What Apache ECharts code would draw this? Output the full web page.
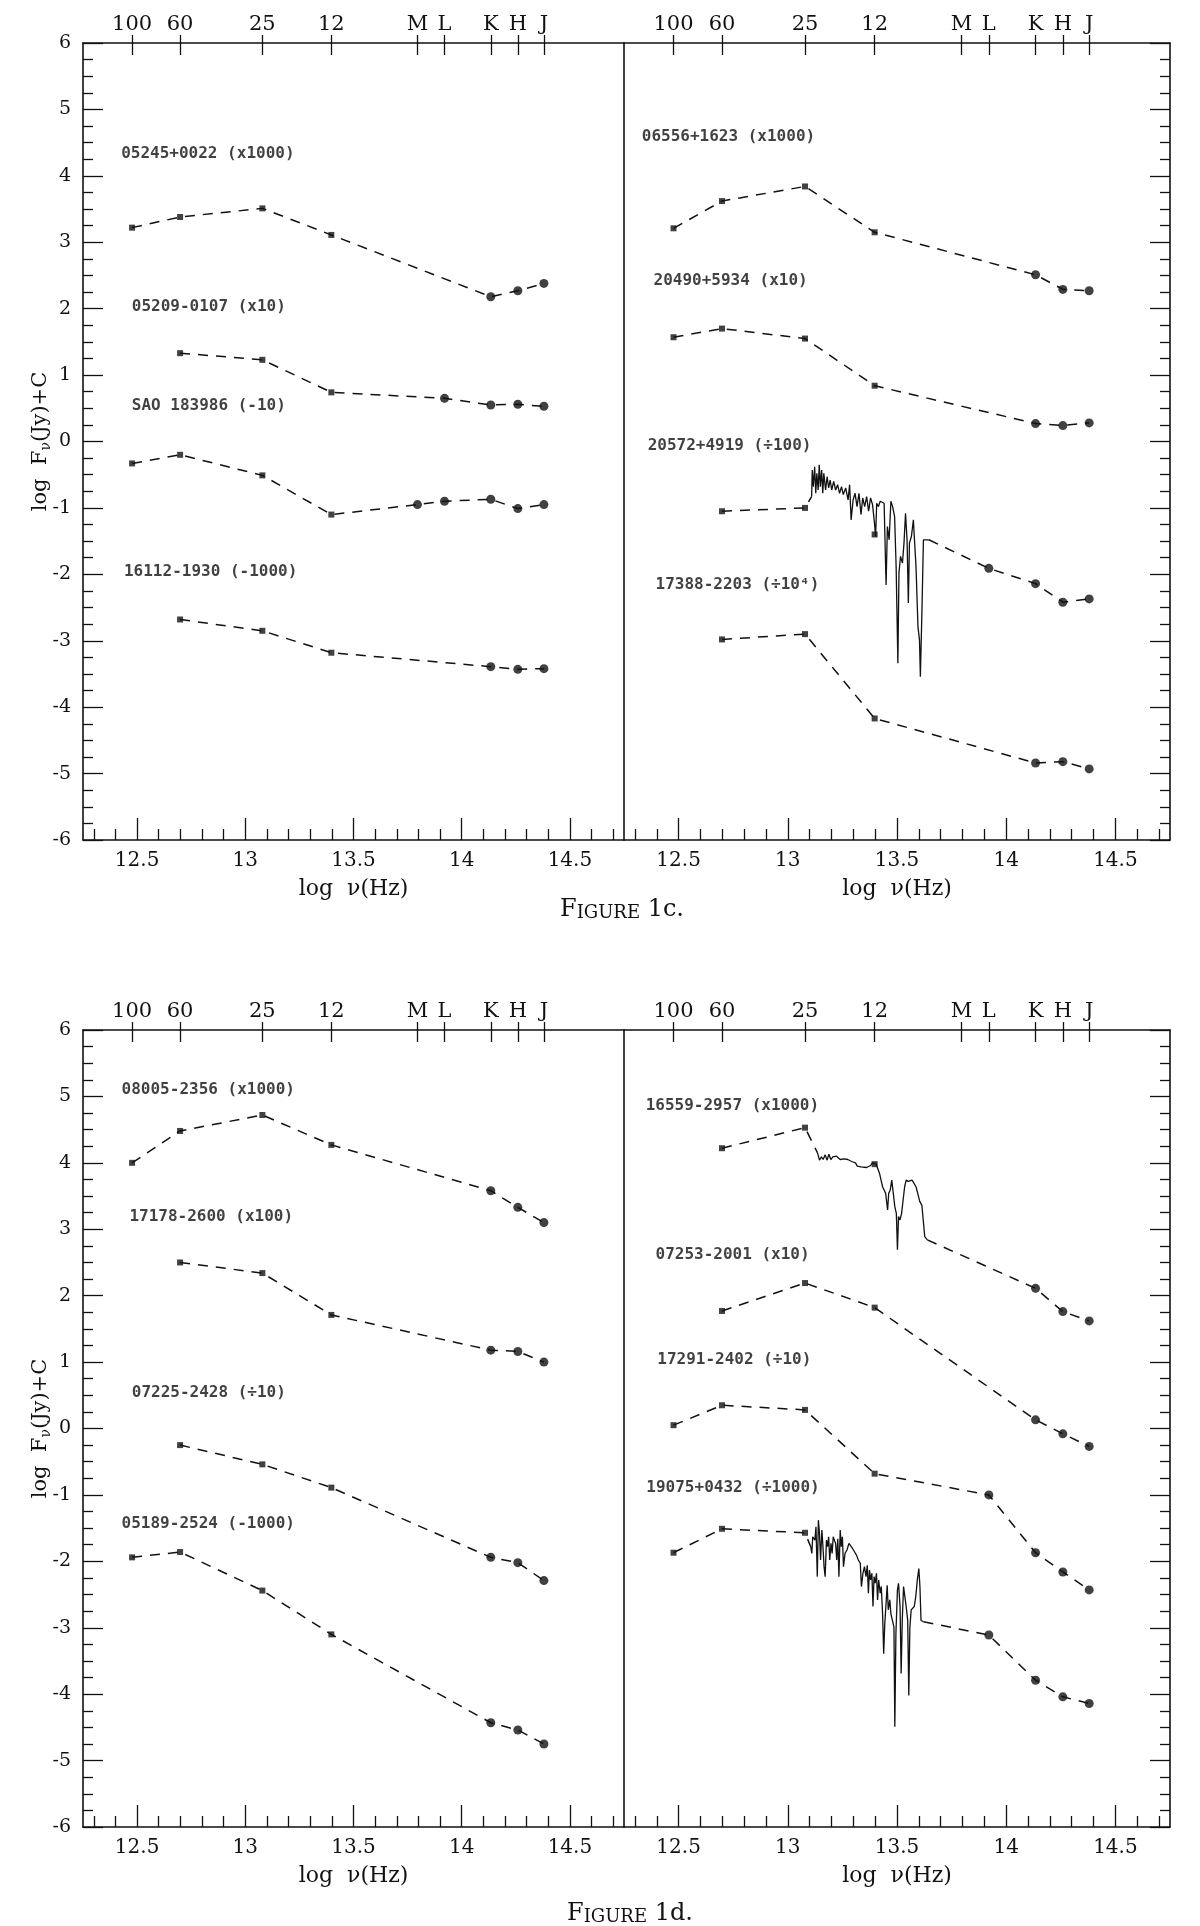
<!DOCTYPE html>
<html>
<head>
<meta charset="utf-8">
<script src="https://cdn.jsdelivr.net/npm/echarts@6/dist/echarts.min.js"></script>
<style>
html,body{margin:0;padding:0;background:#fff;}
#chart{width:1200px;height:1926px;}
</style>
</head>
<body>
<div id="chart"></div>
<script>
// ---------------- axis ticks ----------------
const X_RANGE = [12.25, 14.75];
const Y_RANGE = [-6, 6];
const BOTTOM_MAJOR_TICKS = [12.5, 13, 13.5, 14, 14.5];
const BOTTOM_MINOR_TICKS = [12.3, 12.4, 12.6, 12.7, 12.8, 12.9, 13.1, 13.2, 13.3, 13.4, 13.6, 13.7, 13.8, 13.9, 14.1, 14.2, 14.3, 14.4, 14.6, 14.7];
const TOP_TICK_LABELS = ['100', '60', '25', '12', 'M', 'L', 'K', 'H', 'J'];
const TOP_TICK_WAVELENGTH_UM = [100, 60, 25, 12, 4.8, 3.6, 2.2, 1.65, 1.25];
const IRAS_BANDS = ['100', '60', '25', '12'];
const FIGURE_TITLES = ['1c.', '1d.'];

// ---------------- FIGURE 1c, left ----------------
const NAME_05245 = '05245+0022 (x1000)';
const BANDS_05245 = ['100', '60', '25', '12', 'K', 'H', 'J'];
const FLUX_05245 = [3.22, 3.38, 3.51, 3.11, 2.18, 2.27, 2.38];

const NAME_05209 = '05209-0107 (x10)';
const BANDS_05209 = ['60', '25', '12', 'L', 'K', 'H', 'J'];
const FLUX_05209 = [1.33, 1.23, 0.74, 0.65, 0.55, 0.56, 0.53];

const NAME_SAO = 'SAO 183986 (-10)';
const BANDS_SAO = ['100', '60', '25', '12', 'M', 'L', 'K', 'H', 'J'];
const FLUX_SAO = [-0.33, -0.20, -0.51, -1.10, -0.95, -0.90, -0.87, -1.01, -0.95];

const NAME_16112 = '16112-1930 (-1000)';
const BANDS_16112 = ['60', '25', '12', 'K', 'H', 'J'];
const FLUX_16112 = [-2.68, -2.85, -3.18, -3.39, -3.43, -3.42];

// ---------------- FIGURE 1c, right ----------------
const NAME_06556 = '06556+1623 (x1000)';
const BANDS_06556 = ['100', '60', '25', '12', 'K', 'H', 'J'];
const FLUX_06556 = [3.21, 3.62, 3.84, 3.15, 2.51, 2.29, 2.27];

const NAME_20490 = '20490+5934 (x10)';
const BANDS_20490 = ['100', '60', '25', '12', 'K', 'H', 'J'];
const FLUX_20490 = [1.57, 1.70, 1.55, 0.84, 0.27, 0.24, 0.28];

const NAME_20572 = '20572+4919 (\u00f7100)';
const BANDS_20572 = ['60', '25', '12', 'L', 'K', 'H', 'J'];
const FLUX_20572 = [-1.05, -1.00, -1.40, -1.91, -2.14, -2.42, -2.37];
const SPEC_20572_LOGNU = [13.109, 13.112, 13.117, 13.123, 13.128, 13.133, 13.139, 13.144, 13.149, 13.155, 13.160, 13.165, 13.173, 13.180, 13.187, 13.194, 13.201, 13.210, 13.219, 13.228, 13.237, 13.246, 13.254, 13.265, 13.276, 13.283, 13.290, 13.299, 13.308, 13.317, 13.326, 13.335, 13.343, 13.352, 13.361, 13.370, 13.379, 13.388, 13.397, 13.402, 13.407, 13.415, 13.423, 13.432, 13.441, 13.450, 13.456, 13.464, 13.472, 13.480, 13.489, 13.496, 13.504, 13.509, 13.516, 13.525, 13.532, 13.539, 13.546, 13.552, 13.557, 13.566, 13.575, 13.580, 13.587, 13.596, 13.603, 13.607, 13.614, 13.621, 13.628, 13.646];
const SPEC_20572_FLUX = [-0.83, -0.43, -0.68, -0.38, -0.78, -0.48, -0.73, -0.35, -0.68, -0.43, -0.78, -0.48, -0.73, -0.53, -0.70, -0.58, -0.73, -0.60, -0.73, -0.65, -0.78, -0.68, -0.80, -0.70, -0.88, -0.65, -1.18, -0.88, -0.78, -0.98, -0.78, -1.10, -0.85, -0.98, -0.83, -1.05, -0.85, -0.95, -1.23, -1.43, -0.93, -0.98, -0.90, -0.93, -0.93, -2.16, -1.28, -1.48, -0.90, -0.98, -1.13, -1.88, -3.34, -1.98, -1.73, -1.83, -1.53, -1.08, -1.48, -2.43, -1.53, -1.43, -1.18, -1.48, -1.88, -2.79, -2.99, -3.54, -2.58, -1.48, -1.48, -1.48];

const NAME_17388 = '17388-2203 (\u00f710\u2074)';
const BANDS_17388 = ['60', '25', '12', 'K', 'H', 'J'];
const FLUX_17388 = [-2.98, -2.90, -4.17, -4.84, -4.82, -4.93];

// ---------------- FIGURE 1d, left ----------------
const NAME_08005 = '08005-2356 (x1000)';
const BANDS_08005 = ['100', '60', '25', '12', 'K', 'H', 'J'];
const FLUX_08005 = [4.00, 4.48, 4.72, 4.27, 3.58, 3.33, 3.10];

const NAME_17178 = '17178-2600 (x100)';
const BANDS_17178 = ['60', '25', '12', 'K', 'H', 'J'];
const FLUX_17178 = [2.50, 2.34, 1.71, 1.18, 1.16, 1.00];

const NAME_07225 = '07225-2428 (\u00f710)';
const BANDS_07225 = ['60', '25', '12', 'K', 'H', 'J'];
const FLUX_07225 = [-0.25, -0.54, -0.89, -1.94, -2.02, -2.29];

const NAME_05189 = '05189-2524 (-1000)';
const BANDS_05189 = ['100', '60', '25', '12', 'K', 'H', 'J'];
const FLUX_05189 = [-1.94, -1.86, -2.44, -3.10, -4.43, -4.54, -4.75];

// ---------------- FIGURE 1d, right ----------------
const NAME_16559 = '16559-2957 (x1000)';
const BANDS_16559 = ['60', '25', '12', 'K', 'H', 'J'];
const FLUX_16559 = [4.22, 4.53, 3.98, 2.11, 1.76, 1.62];
const SPEC_16559_LOGNU = [13.136, 13.145, 13.154, 13.162, 13.171, 13.180, 13.188, 13.197, 13.206, 13.214, 13.223, 13.232, 13.240, 13.249, 13.258, 13.266, 13.275, 13.284, 13.292, 13.301, 13.310, 13.318, 13.327, 13.335, 13.344, 13.361, 13.379, 13.387, 13.396, 13.405, 13.413, 13.420, 13.427, 13.434, 13.441, 13.448, 13.457, 13.462, 13.469, 13.476, 13.483, 13.490, 13.497, 13.502, 13.507, 13.514, 13.521, 13.528, 13.535, 13.542, 13.552, 13.561, 13.569, 13.578, 13.587, 13.595, 13.604, 13.614, 13.621, 13.627, 13.639];
const SPEC_16559_FLUX = [4.15, 4.04, 4.09, 4.05, 4.12, 4.04, 4.13, 4.05, 4.09, 4.07, 4.10, 4.08, 4.05, 4.04, 4.06, 4.03, 4.05, 4.06, 4.02, 3.99, 4.00, 3.95, 3.98, 3.94, 3.96, 3.93, 3.96, 4.00, 4.02, 3.98, 3.99, 3.84, 3.74, 3.64, 3.59, 3.54, 3.29, 3.54, 3.59, 3.74, 3.54, 3.34, 3.24, 2.69, 3.19, 3.14, 3.24, 3.44, 3.64, 3.74, 3.72, 3.74, 3.74, 3.72, 3.64, 3.54, 3.42, 3.36, 3.34, 2.89, 2.84];

const NAME_07253 = '07253-2001 (x10)';
const BANDS_07253 = ['60', '25', '12', 'K', 'H', 'J'];
const FLUX_07253 = [1.77, 2.19, 1.82, 0.13, -0.08, -0.27];

const NAME_17291 = '17291-2402 (\u00f710)';
const BANDS_17291 = ['100', '60', '25', '12', 'L', 'K', 'H', 'J'];
const FLUX_17291 = [0.05, 0.35, 0.28, -0.68, -1.00, -1.87, -2.16, -2.43];

const NAME_19075 = '19075+0432 (\u00f71000)';
const BANDS_19075 = ['100', '60', '25', 'L', 'K', 'H', 'J'];
const FLUX_19075 = [-1.87, -1.51, -1.57, -3.11, -3.79, -4.04, -4.14];
const SPEC_19075_LOGNU = [13.105, 13.110, 13.114, 13.119, 13.124, 13.129, 13.135, 13.140, 13.145, 13.150, 13.156, 13.161, 13.166, 13.171, 13.177, 13.182, 13.187, 13.192, 13.198, 13.203, 13.208, 13.213, 13.219, 13.224, 13.229, 13.234, 13.240, 13.245, 13.250, 13.255, 13.262, 13.271, 13.280, 13.288, 13.297, 13.306, 13.315, 13.323, 13.332, 13.337, 13.344, 13.351, 13.358, 13.364, 13.369, 13.374, 13.379, 13.385, 13.390, 13.395, 13.400, 13.406, 13.411, 13.416, 13.423, 13.428, 13.434, 13.439, 13.444, 13.449, 13.455, 13.460, 13.467, 13.472, 13.479, 13.486, 13.490, 13.495, 13.502, 13.507, 13.514, 13.519, 13.524, 13.530, 13.535, 13.542, 13.549, 13.554, 13.559, 13.565, 13.572, 13.579, 13.586, 13.593, 13.600, 13.605, 13.610, 13.621];
const SPEC_19075_FLUX = [-1.78, -1.88, -1.63, -1.61, -1.68, -1.48, -2.23, -1.38, -1.58, -1.98, -1.53, -1.78, -2.08, -2.23, -1.68, -1.78, -1.63, -1.98, -1.73, -1.88, -1.63, -1.68, -1.73, -1.98, -1.66, -2.23, -1.53, -1.78, -1.63, -2.08, -1.88, -1.83, -1.73, -1.76, -1.81, -1.86, -1.91, -1.98, -2.03, -2.38, -2.18, -2.08, -2.23, -2.06, -2.48, -2.13, -2.28, -2.18, -2.68, -2.23, -2.33, -2.18, -2.58, -2.28, -2.48, -2.38, -2.79, -3.39, -2.94, -2.68, -2.36, -2.73, -2.58, -2.79, -2.89, -2.99, -4.49, -3.09, -2.43, -2.33, -2.68, -3.69, -2.89, -2.38, -2.36, -2.68, -2.89, -4.02, -2.99, -2.73, -2.73, -2.68, -2.53, -2.28, -2.11, -2.38, -2.89, -2.91];

// ---------------- label anchors (log nu, y) : layout only ----------------
const LABEL_AT = {
  '05245': [12.424, 4.33], '05209': [12.473, 2.02], 'SAO': [12.473, 0.54], '16112': [12.437, -1.97],
  '06556': [12.329, 4.59], '20490': [12.383, 2.42], '20572': [12.356, -0.06], '17388': [12.392, -2.16],
  '08005': [12.426, 5.10], '17178': [12.462, 3.18], '07225': [12.473, 0.54], '05189': [12.426, -1.44],
  '16559': [12.347, 4.86], '07253': [12.392, 2.61], '17291': [12.400, 1.04], '19075': [12.350, -0.90]
};

// ---------------- layout & style ----------------
const INK = '#111';
const SERIF = '"DejaVu Serif","Liberation Serif",serif';
const CAPTION_SERIF = '"DejaVu Serif","Liberation Serif",serif';
const MONO = '"DejaVu Sans Mono","Liberation Mono",monospace';
const GRIDS = [
  { left: 83, top: 43, width: 541, height: 797 },
  { left: 624, top: 43, width: 546, height: 797 },
  { left: 83, top: 1030, width: 541, height: 797 },
  { left: 624, top: 1030, width: 546, height: 797 }
];

const LOG_NU = TOP_TICK_WAVELENGTH_UM.map(l => Math.log10(2.998e14 / l));
function bandLogNu(b) { return LOG_NU[TOP_TICK_LABELS.indexOf(b)]; }

const STARS = [
  { panel: 0, key: '05245', name: NAME_05245, bands: BANDS_05245, flux: FLUX_05245 },
  { panel: 0, key: '05209', name: NAME_05209, bands: BANDS_05209, flux: FLUX_05209 },
  { panel: 0, key: 'SAO', name: NAME_SAO, bands: BANDS_SAO, flux: FLUX_SAO },
  { panel: 0, key: '16112', name: NAME_16112, bands: BANDS_16112, flux: FLUX_16112 },
  { panel: 1, key: '06556', name: NAME_06556, bands: BANDS_06556, flux: FLUX_06556 },
  { panel: 1, key: '20490', name: NAME_20490, bands: BANDS_20490, flux: FLUX_20490 },
  { panel: 1, key: '20572', name: NAME_20572, bands: BANDS_20572, flux: FLUX_20572, specX: SPEC_20572_LOGNU, specY: SPEC_20572_FLUX },
  { panel: 1, key: '17388', name: NAME_17388, bands: BANDS_17388, flux: FLUX_17388 },
  { panel: 2, key: '08005', name: NAME_08005, bands: BANDS_08005, flux: FLUX_08005 },
  { panel: 2, key: '17178', name: NAME_17178, bands: BANDS_17178, flux: FLUX_17178 },
  { panel: 2, key: '07225', name: NAME_07225, bands: BANDS_07225, flux: FLUX_07225 },
  { panel: 2, key: '05189', name: NAME_05189, bands: BANDS_05189, flux: FLUX_05189 },
  { panel: 3, key: '16559', name: NAME_16559, bands: BANDS_16559, flux: FLUX_16559, specX: SPEC_16559_LOGNU, specY: SPEC_16559_FLUX },
  { panel: 3, key: '07253', name: NAME_07253, bands: BANDS_07253, flux: FLUX_07253 },
  { panel: 3, key: '17291', name: NAME_17291, bands: BANDS_17291, flux: FLUX_17291 },
  { panel: 3, key: '19075', name: NAME_19075, bands: BANDS_19075, flux: FLUX_19075, specX: SPEC_19075_LOGNU, specY: SPEC_19075_FLUX }
];

// ---------------- axes ----------------
const xAxis = [];
const yAxis = [];
GRIDS.forEach((g, gi) => {
  const base = { type: 'value', gridIndex: gi, min: X_RANGE[0], max: X_RANGE[1], splitLine: { show: false } };
  const line = { show: true, onZero: false, lineStyle: { color: INK, width: 1.6 } };
  const noLine = { show: false, onZero: false };
  const tickStyle = { color: INK, width: 1.3 };
  xAxis.push(Object.assign({}, base, {
    position: 'bottom', axisLine: line,
    axisTick: { show: true, inside: true, length: 22, customValues: BOTTOM_MAJOR_TICKS, lineStyle: tickStyle },
    axisLabel: { show: true, customValues: BOTTOM_MAJOR_TICKS, margin: 11, fontFamily: SERIF, fontSize: 20, color: INK, formatter: v => String(v) },
    name: 'log  \u03bd(Hz)', nameLocation: 'middle', nameGap: 38, nameMoveOverlap: false,
    nameTextStyle: { fontFamily: SERIF, fontSize: 22, color: INK }
  }));
  xAxis.push(Object.assign({}, base, {
    position: 'bottom', axisLine: noLine,
    axisTick: { show: true, inside: true, length: 11, customValues: BOTTOM_MINOR_TICKS, lineStyle: tickStyle },
    axisLabel: { show: false }
  }));
  xAxis.push(Object.assign({}, base, {
    position: 'top', axisLine: line,
    axisTick: { show: true, inside: false, length: 8, customValues: LOG_NU, lineStyle: tickStyle },
    axisLabel: {
      show: true, customValues: LOG_NU, margin: 8, fontFamily: SERIF, fontSize: 21, color: INK,
      formatter: v => { const i = LOG_NU.findIndex(t => Math.abs(t - v) < 1e-6); return i >= 0 ? TOP_TICK_LABELS[i] : ''; }
    }
  }));
  xAxis.push(Object.assign({}, base, {
    position: 'top', axisLine: noLine,
    axisTick: { show: true, inside: true, length: 12, customValues: LOG_NU, lineStyle: tickStyle },
    axisLabel: { show: false }
  }));

  const ybase = { type: 'value', gridIndex: gi, min: Y_RANGE[0], max: Y_RANGE[1], interval: 1, splitLine: { show: false } };
  const isLeft = gi % 2 === 0;
  if (isLeft) {
    yAxis.push(Object.assign({}, ybase, {
      position: 'left', axisLine: line,
      axisTick: { show: true, inside: true, length: 20, lineStyle: tickStyle },
      minorTick: { show: true, splitNumber: 4, length: 10, lineStyle: tickStyle },
      axisLabel: { show: true, margin: 12, fontFamily: SERIF, fontSize: 19, color: INK },
      name: '{a|log  F}{s|\u03bd}{a|(Jy)+C}', nameLocation: 'middle', nameGap: 30, nameRotate: 90, nameMoveOverlap: false,
      nameTextStyle: {
        color: INK,
        rich: {
          a: { fontFamily: SERIF, fontSize: 21, color: INK, lineHeight: 24, verticalAlign: 'middle' },
          s: { fontFamily: SERIF, fontSize: 14, color: INK, lineHeight: 24, verticalAlign: 'bottom' }
        }
      }
    }));
    yAxis.push(Object.assign({}, ybase, { position: 'right', show: false }));
  } else {
    yAxis.push(Object.assign({}, ybase, {
      position: 'left', axisLine: line, axisTick: { show: false }, axisLabel: { show: false }
    }));
    yAxis.push(Object.assign({}, ybase, {
      position: 'right', axisLine: line,
      axisTick: { show: true, inside: true, length: 20, lineStyle: tickStyle },
      minorTick: { show: true, splitNumber: 4, length: 10, lineStyle: tickStyle },
      axisLabel: { show: false }
    }));
  }
});

// ---------------- series ----------------
const series = [];
STARS.forEach(st => {
  const xi = st.panel * 4, yi = st.panel * 2;
  const pts = st.bands.map((b, i) => [bandLogNu(b), st.flux[i]]);
  const dashed = data => ({
    type: 'line', xAxisIndex: xi, yAxisIndex: yi, data: data, symbol: 'none', showSymbol: false,
    lineStyle: { type: [10, 8], width: 1.5, color: INK }, z: 2, silent: true
  });
  if (st.specX) {
    const n = Math.min(st.specX.length, st.specY.length);
    const spec = [];
    for (let i = 0; i < n; i++) spec.push([st.specX[i], st.specY[i]]);
    const s0 = spec[0], s1 = spec[n - 1];
    series.push(dashed(pts.filter(p => p[0] < s0[0]).concat([s0])));
    series.push(dashed([s1].concat(pts.filter(p => p[0] > s1[0]))));
    series.push({
      type: 'line', xAxisIndex: xi, yAxisIndex: yi, data: spec, symbol: 'none', showSymbol: false,
      lineStyle: { type: 'solid', width: 1.3, color: INK }, z: 2, silent: true
    });
  } else {
    series.push(dashed(pts));
  }
  series.push({
    type: 'scatter', xAxisIndex: xi, yAxisIndex: yi, silent: true, z: 3,
    data: pts.map((p, i) => {
      const iras = IRAS_BANDS.indexOf(st.bands[i]) >= 0;
      return { value: p, symbol: iras ? 'rect' : 'circle', symbolSize: iras ? 6 : 9 };
    }),
    itemStyle: { color: INK }
  });
  series.push({
    type: 'scatter', xAxisIndex: xi, yAxisIndex: yi, silent: true, z: 4,
    data: [{ value: LABEL_AT[st.key], name: st.name }],
    symbolSize: 1, itemStyle: { color: 'rgba(0,0,0,0)' },
    label: { show: true, position: 'right', distance: 0, formatter: '{b}', fontFamily: MONO, fontWeight: 'bold', fontSize: 16, color: INK }
  });
});

// ---------------- figure captions ----------------
const CAPTION_AT = [[622, 909], [630, 1913]];
const graphic = FIGURE_TITLES.map((t, i) => ({
  type: 'text', x: CAPTION_AT[i][0], y: CAPTION_AT[i][1], silent: true,
  style: {
    text: '{a|F}{b|IGURE}{a| ' + t + '}',
    align: 'center', verticalAlign: 'middle',
    rich: {
      a: { fontFamily: CAPTION_SERIF, fontSize: 24, fill: INK, verticalAlign: 'bottom', lineHeight: 26 },
      b: { fontFamily: CAPTION_SERIF, fontSize: 18, fill: INK, verticalAlign: 'bottom', lineHeight: 26 }
    }
  }
}));

const chart = echarts.init(document.getElementById('chart'), null, { renderer: 'canvas' });
chart.setOption({
  backgroundColor: '#fff',
  animation: false,
  grid: GRIDS.map(g => Object.assign({ containLabel: false, outerBoundsMode: 'none' }, g)),
  xAxis: xAxis,
  yAxis: yAxis,
  series: series,
  graphic: graphic
});
</script>
</body>
</html>
